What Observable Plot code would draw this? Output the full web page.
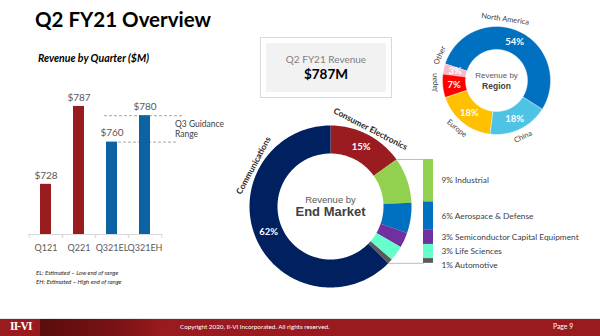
<!DOCTYPE html>
<html><head><meta charset="utf-8">
<script src="https://cdn.jsdelivr.net/npm/d3@7"></script>
<script src="https://cdn.jsdelivr.net/npm/@observablehq/plot@0.6"></script>
<style>
body{margin:0;background:#fff;}
#slide{position:relative;width:600px;height:336px;overflow:hidden;background:#fff;font-family:Lato,"Open Sans",sans-serif;}
#slide svg{position:absolute;}
.t{position:absolute;white-space:nowrap;}
</style></head><body><div id="slide"></div>
<script>
// ---------- data ----------
const quarters = ["Q121", "Q221", "Q321EL", "Q321EH"];
const revenue = [728, 787, 760, 780];
const quarterKind = ["actual", "actual", "estimate", "estimate"];
const guidance = [760, 780];
const yBase = 690;

const regions = ["North America", "China", "Europe", "Japan", "Other"];
const regionShare = [54, 18, 18, 7, 3];

const markets = ["Consumer Electronics", "Industrial", "Aerospace & Defense",
  "Semiconductor Capital Equipment", "Life Sciences", "Automotive", "Communications"];
const marketShare = [15, 9, 6, 3, 3, 1, 62];
const breakoutMarkets = ["Industrial", "Aerospace & Defense", "Semiconductor Capital Equipment", "Life Sciences", "Automotive"];

// ---------- style ----------
const RED = "#981B1E", BLUE = "#0B63A1";
const regionColors = ["#0070C0", "#4FC3E3", "#FFC000", "#FF0000", "#F6BAC6"];
const marketColors = ["#9B1C20", "#92D050", "#0070C0", "#7030A0", "#66FFCC", "#595959", "#002060"];
const FONT = 'Lato, "Open Sans", sans-serif';
const slide = document.getElementById("slide");

function txt(str, o) {
  const d = document.createElement("div");
  d.className = "t";
  d.textContent = str;
  const s = o.size;
  d.style.fontSize = s + "px";
  d.style.lineHeight = s + "px";
  d.style.fontWeight = o.weight || "normal";
  d.style.fontStyle = o.italic ? "italic" : "normal";
  d.style.color = o.color || "#000";
  if (o.family) d.style.fontFamily = o.family;
  d.style.top = (o.cy - 0.527 * s) + "px";
  if (o.center != null) { d.style.left = o.center + "px"; d.style.transform = "translateX(-50%)"; }
  else d.style.left = o.left + "px";
  slide.appendChild(d);
  return d;
}
function put(svg, left, top) { svg.style.left = left + "px"; svg.style.top = top + "px"; slide.appendChild(svg); }

// ---------- title ----------
txt("Q2 FY21 Overview", {left: 35, cy: 19.4, size: 20.5, weight: "bold", color: "#000"});
txt("Revenue by Quarter ($M)", {left: 38, cy: 59, size: 10.5, weight: "bold", italic: true, color: "#000"});

// ---------- bar chart ----------
const barRows = quarters.map((q, i) => ({q, v: revenue[i], kind: quarterKind[i]}));
const bar = Plot.plot({
  width: 230, height: 200,
  marginLeft: 28, marginRight: 68, marginTop: 15.6, marginBottom: 26,
  style: {background: "transparent", fontFamily: FONT, overflow: "visible"},
  x: {domain: quarters, paddingInner: 0.672, paddingOuter: 0.336, axis: null},
  y: {domain: [yBase, 810], axis: null},
  color: {domain: ["actual", "estimate"], range: [RED, BLUE]},
  marks: [
    Plot.ruleY([guidance[0]], {stroke: "#A6A6A6", strokeDasharray: "3,2", insetLeft: 90, insetRight: -16}),
    Plot.ruleY([guidance[1]], {stroke: "#A6A6A6", strokeDasharray: "3,2", insetLeft: 76, insetRight: -22}),
    Plot.barY(barRows, {x: "q", y1: yBase, y2: "v", fill: "kind"}),
    Plot.ruleY([yBase], {stroke: "#D9D9D9"}),
    Plot.axisX({text: null, tickSize: 4, dx: -16.75, stroke: "#D9D9D9", label: null}),
    Plot.axisX({text: null, tickSize: 4, dx: 16.75, stroke: "#D9D9D9", label: null}),
    Plot.axisX({tickSize: 0, tickPadding: 10, fontSize: 9, color: "#595959", label: null}),
    Plot.text(barRows, {x: "q", y: "v", text: d => "$" + d.v, dy: -9, fontSize: 10, fill: "#595959"}),
    Plot.text([0], {x: () => quarters[3], y: () => d3.mean(guidance), text: () => "Q3 Guidance\nRange",
      dx: 30, textAnchor: "start", lineHeight: 1.2, fontSize: 8.5, fill: "#404040"})
  ]
});
put(bar, 0, 60);

txt("EL: Estimated \u2013 Low end of range", {left: 36, cy: 273.3, size: 6, italic: true, color: "#262626"});
txt("EH: Estimated \u2013 High end of range", {left: 36, cy: 281.7, size: 6, italic: true, color: "#262626"});

// ---------- revenue box ----------
const box = document.createElement("div");
box.style.cssText = "position:absolute;left:260px;top:37px;width:130px;height:59px;border:1px solid #D9D9D9;background:#fff;";
slide.appendChild(box);
const inner = document.createElement("div");
inner.style.cssText = "position:absolute;left:266px;top:43px;width:120px;height:49px;background:#F2F2F2;";
slide.appendChild(inner);
txt("Q2 FY21 Revenue", {center: 326, cy: 59.5, size: 10, color: "#7F7F7F"});
txt("$" + revenue[1] + "M", {center: 326, cy: 75, size: 13.5, weight: "bold", color: "#000"});

// ---------- donut helpers ----------
function pieLayout(names, values, start) {
  const total = d3.sum(values);
  let a = start;
  return names.map((name, i) => {
    const a0 = a; a += values[i] / total * 360;
    return {name, value: values[i], a0, a1: a, mid: (a0 + a) / 2};
  });
}
function ring(slices, r0, r1) {
  const pts = [];
  for (const s of slices) {
    const n = Math.max(2, Math.ceil((s.a1 - s.a0) / 1.5));
    for (let i = 0; i <= n; i++) { const a = (s.a0 + (s.a1 - s.a0) * i / n) * Math.PI / 180; pts.push({key: s.name, x: r1 * Math.sin(a), y: r1 * Math.cos(a)}); }
    for (let i = n; i >= 0; i--) { const a = (s.a0 + (s.a1 - s.a0) * i / n) * Math.PI / 180; pts.push({key: s.name, x: r0 * Math.sin(a), y: r0 * Math.cos(a)}); }
  }
  return pts;
}
const rad = d => d * Math.PI / 180;
function tangentRotate(a) {
  let b = ((a + 180) % 360 + 360) % 360 - 180;
  return (b >= -135 && b < 90) ? b : b - 180;
}
function polar(a, r) { return {x: r * Math.sin(rad(a)), y: r * Math.cos(rad(a))}; }

// ---------- region donut ----------
const R1 = 54, RIN1 = 31 / 54;
const regionSlices = pieLayout(regions, regionShare, -72);
const regionLabelAngle = {"North America": 8, "Other": -66, "Japan": -92};
const regionOuter = regionSlices.map(s => {
  const a = regionLabelAngle[s.name] ?? s.mid;
  return {...polar(a, 1.15), name: s.name, rot: tangentRotate(a)};
});
const regionPct = regionSlices.map(s => ({...polar(s.mid, (1 + RIN1) / 2), t: s.value + "%", name: s.name}));
const regionPlot = Plot.plot({
  width: 180, height: 150, margin: 0,
  style: {background: "transparent", fontFamily: FONT, overflow: "visible"},
  x: {domain: [-76 / R1, 104 / R1], range: [0, 180], axis: null},
  y: {domain: [(80 - 150) / R1, 80 / R1], range: [150, 0], axis: null},
  color: {domain: regions, range: regionColors},
  marks: [
    Plot.line(ring(regionSlices, RIN1, 1), {x: "x", y: "y", z: "key", fill: "key", stroke: "white", strokeWidth: 0.4, curve: "linear-closed"}),
    Plot.text(regionPct, {x: "x", y: "y", text: "t", fill: "white", fontWeight: "bold", fontSize: 9.5}),
    Plot.text(regionOuter, {x: "x", y: "y", text: "name", rotate: "rot", fill: "#404040", fontSize: 7.5}),
    Plot.text([0], {x: () => 0, y: () => 0, text: () => "Revenue by", dy: -5, fontSize: 8, fill: "#595959", fontFamily: "Liberation Sans"}),
    Plot.text([0], {x: () => 0, y: () => 0, text: () => "Region", dy: 6, fontSize: 8.5, fontWeight: "bold", fill: "#404040", fontFamily: "Liberation Sans"})
  ]
});
put(regionPlot, 420, 0);

// ---------- end market donut + breakout ----------
const R2 = 81, RIN2 = 53 / 81;
const marketSlices = pieLayout(markets, marketShare, 0);
const marketLabelAngle = {"Communications": -62};
const outerNamed = ["Consumer Electronics", "Communications"];
const marketOuter = marketSlices.filter(s => outerNamed.includes(s.name)).map(s => {
  const a = marketLabelAngle[s.name] ?? s.mid;
  return {...polar(a, 1.075), name: s.name, rot: tangentRotate(a)};
});
const marketPct = marketSlices.filter(s => outerNamed.includes(s.name))
  .map(s => ({...polar(s.mid, (1 + RIN2) / 2), t: s.value + "%"}));

const brk = marketSlices.filter(s => breakoutMarkets.includes(s.name));
const aTop = brk[0].a0, aBot = brk[brk.length - 1].a1;
const yTop = Math.cos(rad(aTop)), yBot = Math.cos(rad(aBot));
const brkTotal = d3.sum(brk, d => d.value);
const barL = 93 / R2, barR = 103 / R2, labelX = 111 / R2;
let acc = 0;
const brkRows = brk.map(s => {
  const y1 = yTop - (yTop - yBot) * acc / brkTotal;
  acc += s.value;
  const y2 = yTop - (yTop - yBot) * acc / brkTotal;
  return {name: s.name, value: s.value, y1, y2, ym: (y1 + y2) / 2};
});
// keep legend labels from colliding (min gap in px)
const minGap = 14 / R2;
for (let i = 1; i < brkRows.length; i++) {
  if (brkRows[i - 1].ym - brkRows[i].ym < minGap) brkRows[i].ym = brkRows[i - 1].ym - minGap;
}
const connectors = [
  {x1: Math.sin(rad(aTop)), y1: yTop, x2: barL, y2: yTop},
  {x1: Math.sin(rad(aBot)), y1: yBot, x2: barL, y2: yBot},
  {x1: barL, y1: yTop, x2: barL, y2: yBot}
];

const marketPlot = Plot.plot({
  width: 370, height: 200, margin: 0,
  style: {background: "transparent", fontFamily: FONT, overflow: "visible"},
  x: {domain: [-100 / R2, 270 / R2], range: [0, 370], axis: null},
  y: {domain: [-104 / R2, 96 / R2], range: [200, 0], axis: null},
  color: {domain: markets, range: marketColors},
  marks: [
    Plot.link(connectors, {x1: "x1", y1: "y1", x2: "x2", y2: "y2", stroke: "#BFBFBF", strokeWidth: 1}),
    Plot.line(ring(marketSlices, RIN2, 1), {x: "x", y: "y", z: "key", fill: "key", stroke: "none", curve: "linear-closed"}),
    Plot.rect(brkRows, {x1: () => barL, x2: () => barR, y1: "y1", y2: "y2", fill: "name"}),
    Plot.text(brkRows, {x: () => labelX, y: "ym", text: d => d.value + "% " + d.name, textAnchor: "start", fontSize: 8.3, fill: "#404040"}),
    Plot.text(marketPct, {x: "x", y: "y", text: "t", fill: "white", fontWeight: "bold", fontSize: 9.5}),
    Plot.text(marketOuter, {x: "x", y: "y", text: "name", rotate: "rot", fill: "#262626", fontWeight: "bold", fontSize: 8.5}),
    Plot.text([0], {x: () => 0, y: () => 0, text: () => "Revenue by", dy: -7, fontSize: 9.5, fill: "#595959", fontFamily: "Liberation Sans"}),
    Plot.text([0], {x: () => 0, y: () => 0, text: () => "End Market", dy: 5.5, fontSize: 13, fontWeight: "bold", fill: "#404040", fontFamily: "Liberation Sans"})
  ]
});
put(marketPlot, 230, 110);

// ---------- footer ----------
const foot = document.createElement("div");
foot.style.cssText = "position:absolute;left:0;top:317.5px;width:600px;height:18.5px;background:#9A1B1F;border-top:1px solid #E6E6E6;";
slide.appendChild(foot);
const deco = document.createElement("div");
deco.style.cssText = "position:absolute;left:40px;top:318.5px;width:125px;height:17.5px;" +
  "background:linear-gradient(90deg,rgba(40,0,0,0.55),rgba(60,0,0,0.35) 60%,rgba(60,0,0,0));" +
  "clip-path:polygon(0 0,100% 0,92% 100%,0 100%);";
slide.appendChild(deco);
txt("II-VI", {left: 10, cy: 327, size: 11.5, weight: "bold", color: "#fff", family: '"Liberation Serif", serif'}).style.letterSpacing = "-0.8px";
txt("Copyright 2020, II-VI Incorporated. All rights reserved.", {left: 180, cy: 327, size: 6.3, color: "#fff"});
txt("Page 9", {left: 553, cy: 327, size: 6.8, color: "#fff"});
</script></body></html>
